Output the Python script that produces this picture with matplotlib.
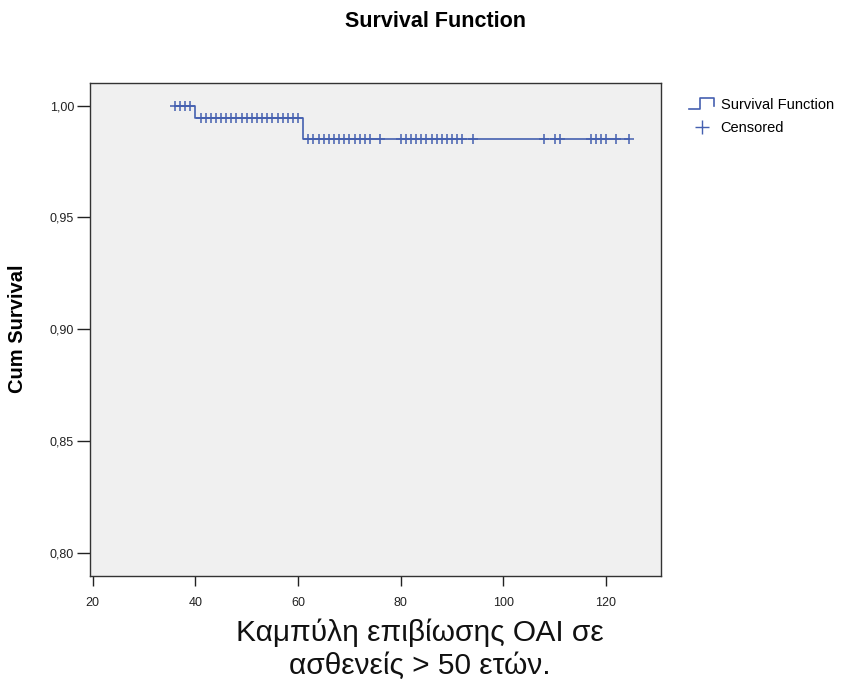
import numpy as np
import matplotlib
matplotlib.use("Agg")
import matplotlib.pyplot as plt
from matplotlib.lines import Line2D
from matplotlib.legend_handler import HandlerBase

plt.rcParams['font.family'] = ['Liberation Sans', 'DejaVu Sans']

# Kaplan-Meier data
start_time = 36
end_time = 124.5
event_times = [40, 61]
event_surv = [0.9944, 0.9851]
censored_times = [36, 37, 38, 39,
                  41, 42, 43, 44, 45, 46, 47, 48, 49, 50,
                  51, 52, 53, 54, 55, 56, 57, 58, 59, 60,
                  62, 63, 64, 65, 66, 67, 68, 69, 70, 71, 72, 73, 74, 76,
                  80, 81, 82, 83, 84, 85, 86, 87, 88, 89, 90, 91, 92, 94,
                  108, 110, 111, 117, 118, 119, 120, 122, 124.5]

x_ticks = [20, 40, 60, 80, 100, 120]
y_ticks = [0.80, 0.85, 0.90, 0.95, 1.00]
y_tick_labels = ['0,80', '0,85', '0,90', '0,95', '1,00']

blue = '#4560b0'

# step curve
t = np.array([start_time] + event_times + [end_time])
s = np.array([1.0] + event_surv + [event_surv[-1]])
cens = np.array(censored_times)
idx = np.searchsorted(np.array(event_times), cens, side='right')
cens_surv = np.array([1.0] + event_surv)[idx]

fig = plt.figure(figsize=(8.42, 6.84), dpi=100)
ax = fig.add_axes([0.1069, 0.1579, 0.6781, 0.7212])
ax.set_facecolor('#f0f0f0')

ax.step(t, s, where='post', color=blue, lw=1.2)
ax.plot(cens, cens_surv, linestyle='none', marker='+', color=blue,
        markersize=6.5, mew=1.1)

ax.set_xlim(19.47, 130.7)
ax.set_ylim(0.7896, 1.0103)
ax.set_xticks(x_ticks)
ax.set_yticks(y_ticks)
ax.set_yticklabels(y_tick_labels)
ax.tick_params(axis='y', length=9.5, width=1, pad=2, labelsize=9, colors='#222222')
ax.tick_params(axis='x', length=7, width=1, pad=8, labelsize=9, colors='#222222')
for sp in ax.spines.values():
    sp.set_color('#333333')
    sp.set_linewidth(1)


class StepHandler(HandlerBase):
    def create_artists(self, legend, orig_handle, xdescent, ydescent,
                       width, height, fontsize, trans):
        w = width
        h = height
        xs = [0, 0.45 * w, 0.45 * w, w, w]
        ys = [0, 0, 1.1 * h, 1.1 * h, 0.3 * h]
        ln = Line2D(xs, ys, color=blue, lw=1.2, transform=trans)
        return [ln]


surv_handle = Line2D([], [], color=blue)
cens_handle = Line2D([], [], color=blue, marker='+', linestyle='none',
                     markersize=10, mew=1)
fig.legend([surv_handle, cens_handle], ['Survival Function', 'Censored'],
           handler_map={surv_handle: StepHandler()},
           loc='upper left', bbox_to_anchor=(0.803, 0.876), frameon=False,
           fontsize=10.5, handlelength=1.7, handletextpad=0.45,
           labelspacing=0.6)

fig.text(0.517, 0.968, 'Survival Function', ha='center', va='center',
         fontsize=15.5, fontweight='bold')
fig.text(0.021, 0.519, 'Cum Survival', ha='center', va='center',
         rotation=90, fontsize=14.5, fontweight='bold')
fig.text(0.499, 0.051, 'Καμπύλη επιβίωσης ΟΑΙ σε\nασθενείς > 50 ετών.',
         ha='center', va='center', fontsize=21.5, color='#111111',
         linespacing=1.25)

fig.savefig('out.png', dpi=100)
